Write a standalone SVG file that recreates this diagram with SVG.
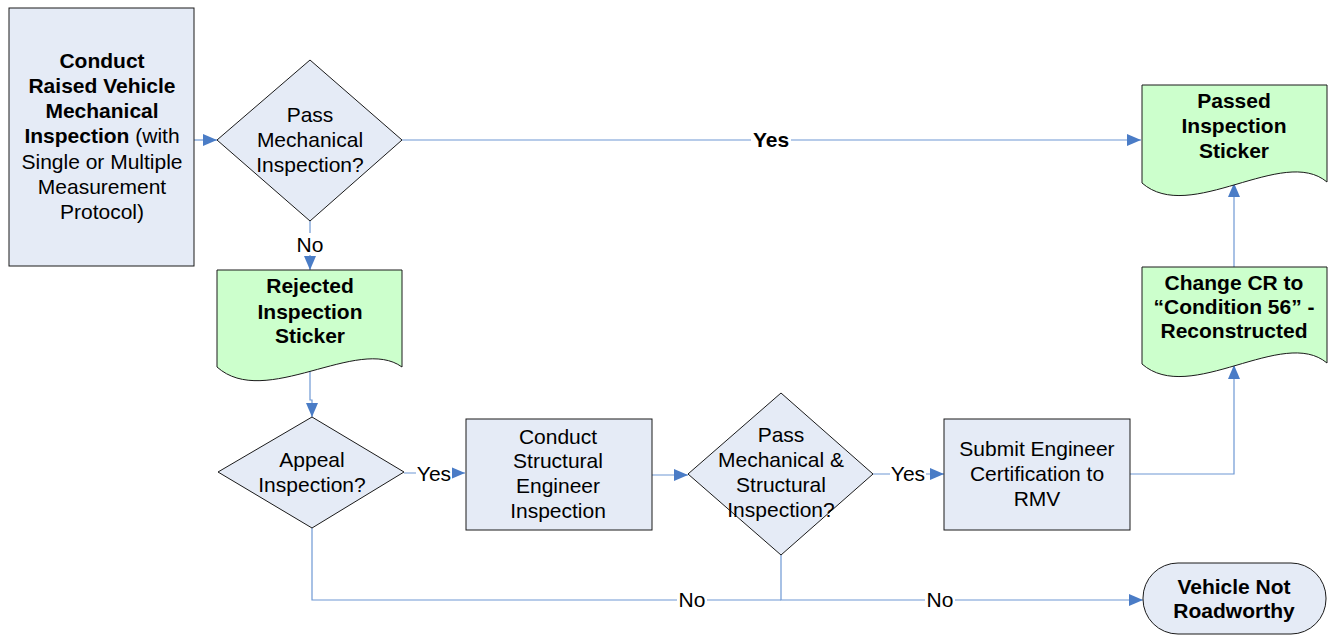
<svg xmlns="http://www.w3.org/2000/svg" width="1328" height="635" viewBox="0 0 1328 635">
<style>
text{font-family:"Liberation Sans",Arial,sans-serif;font-size:21px;fill:#000;text-anchor:middle}
.b{font-weight:bold}
.proc{fill:#E5EBF6;stroke:#1a1a1a;stroke-width:1}
.doc{fill:#CCFFCC;stroke:#1a1a1a;stroke-width:1}
.ln{fill:none;stroke:#6E98D4;stroke-width:1.2}
.lbg{fill:#fff}
</style>
<defs>
<marker id="ah" viewBox="0 0 14 12" refX="14" refY="6" markerWidth="14" markerHeight="12" markerUnits="userSpaceOnUse" orient="auto">
<path d="M0,0 L14,6 L0,12 Z" fill="#4A7CC6"/>
</marker>
</defs>
<g id="connectors">
<path class="ln" d="M194,140 H217" marker-end="url(#ah)"/>
<path class="ln" d="M402,140 H1141" marker-end="url(#ah)"/>
<path class="ln" d="M310,221 V270" marker-end="url(#ah)"/>
<path class="ln" d="M310,370 V400 H312 V417" marker-end="url(#ah)"/>
<path class="ln" d="M404,473 H465" marker-end="url(#ah)"/>
<path class="ln" d="M652,475 H688" marker-end="url(#ah)"/>
<path class="ln" d="M873,474 H944" marker-end="url(#ah)"/>
<path class="ln" d="M1130,474 H1234 V365" marker-end="url(#ah)"/>
<path class="ln" d="M1234,267 V183" marker-end="url(#ah)"/>
<path class="ln" d="M312,528 V600 H781"/>
<path class="ln" d="M781,555 V600 H1143" marker-end="url(#ah)"/>
<rect class="lbg" x="751" y="129" width="40" height="22"/>
<text class="b" x="771" y="147">Yes</text>
<rect class="lbg" x="295" y="233" width="30" height="22"/>
<text x="310" y="252">No</text>
<rect class="lbg" x="416" y="462" width="36" height="22"/>
<text x="434" y="481">Yes</text>
<rect class="lbg" x="890" y="463" width="36" height="22"/>
<text x="908" y="481">Yes</text>
<rect class="lbg" x="677" y="589" width="30" height="22"/>
<text x="692" y="607">No</text>
<rect class="lbg" x="925" y="589" width="30" height="22"/>
<text x="940" y="607">No</text>
</g>
<g id="n-conduct-raised">
<rect class="proc" x="9" y="8" width="185" height="258"/>
<text class="b" x="102" y="68">Conduct</text>
<text class="b" x="102" y="93">Raised Vehicle</text>
<text class="b" x="102" y="118">Mechanical</text>
<text x="102" y="143"><tspan class="b">Inspection</tspan> (with</text>
<text x="102" y="169">Single or Multiple</text>
<text x="102" y="194">Measurement</text>
<text x="102" y="219">Protocol)</text>
</g>
<g id="n-pass-mech">
<path class="proc" d="M217,140 L310,60 L402,140 L310,221 Z"/>
<text x="310" y="122">Pass</text>
<text x="310" y="147">Mechanical</text>
<text x="310" y="172">Inspection?</text>
</g>
<g id="n-passed-sticker">
<path class="doc" d="M1142,85 H1327 V182 C1283,145 1190,225 1142,183 Z"/>
<text class="b" x="1234" y="108">Passed</text>
<text class="b" x="1234" y="133">Inspection</text>
<text class="b" x="1234" y="158">Sticker</text>
</g>
<g id="n-rejected-sticker">
<path class="doc" d="M217,270 H402 V367 C358,335 265,410 217,367 Z"/>
<text class="b" x="310" y="293">Rejected</text>
<text class="b" x="310" y="319">Inspection</text>
<text class="b" x="310" y="343">Sticker</text>
</g>
<g id="n-appeal">
<path class="proc" d="M218,472 L312,417 L404,472 L312,528 Z"/>
<text x="312" y="467">Appeal</text>
<text x="312" y="492">Inspection?</text>
</g>
<g id="n-structural">
<rect class="proc" x="466" y="419" width="186" height="111"/>
<text x="558" y="444">Conduct</text>
<text x="558" y="468">Structural</text>
<text x="558" y="493">Engineer</text>
<text x="558" y="518">Inspection</text>
</g>
<g id="n-pass-mech-struct">
<path class="proc" d="M688,474 L781,393 L873,474 L781,555 Z"/>
<text x="781" y="442">Pass</text>
<text x="781" y="467">Mechanical &amp;</text>
<text x="781" y="492">Structural</text>
<text x="781" y="517">Inspection?</text>
</g>
<g id="n-submit">
<rect class="proc" x="944" y="419" width="186" height="111"/>
<text x="1037" y="456">Submit Engineer</text>
<text x="1037" y="481">Certification to</text>
<text x="1037" y="506">RMV</text>
</g>
<g id="n-change-cr">
<path class="doc" d="M1142,267 H1327 V363 C1283,326 1190,406 1142,364 Z"/>
<text class="b" x="1234" y="290">Change CR to</text>
<text class="b" x="1234" y="314">“Condition 56” -</text>
<text class="b" x="1234" y="338">Reconstructed</text>
</g>
<g id="n-not-roadworthy">
<rect class="proc" x="1143" y="563" width="183" height="71" rx="35" ry="35"/>
<text class="b" x="1234" y="594">Vehicle Not</text>
<text class="b" x="1234" y="618">Roadworthy</text>
</g>
</svg>
